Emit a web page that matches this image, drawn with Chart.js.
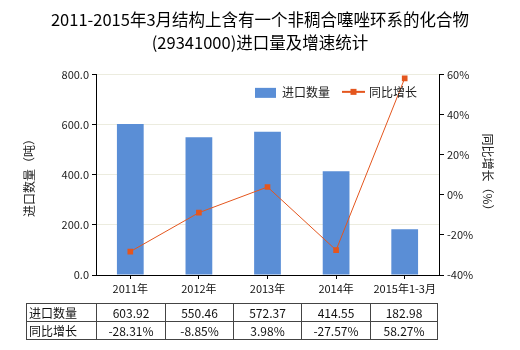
<!DOCTYPE html>
<html>
<head>
<meta charset="utf-8">
<script src="https://cdn.jsdelivr.net/npm/chart.js@4"></script>
<style>
  html, body { margin: 0; padding: 0; background: #fff; }
  #wrap { position: relative; width: 520px; height: 350px; }
  #dataTable {
    position: absolute; left: 26px; top: 303px;
    border-collapse: collapse; table-layout: fixed;
    font: 12px "Noto Sans CJK SC", sans-serif; color: #111;
  }
  #dataTable td {
    border: 1px solid #444; height: 17px; padding: 0;
    text-align: center; line-height: 17px; white-space: nowrap;
  }
  #dataTable td.head { text-align: left; padding-left: 2px; }
</style>
</head>
<body>
<div id="wrap">
  <canvas id="importChart" width="520" height="350"></canvas>
  <table id="dataTable"></table>
</div>
<script>
// 进口数量（吨）与同比增长（%）
const years = ['2011年', '2012年', '2013年', '2014年', '2015年1-3月'];
const importQty = [603.92, 550.46, 572.37, 414.55, 182.98];
const growthPct = [-28.31, -8.85, 3.98, -27.57, 58.27];
const titleLines = ['2011-2015年3月结构上含有一个非稠合噻唑环系的化合物', '(29341000)进口量及增速统计'];

const BAR_COLOR = '#5A8ED6';
const LINE_COLOR = '#E4561E';
const FONT = '"Noto Sans CJK SC", sans-serif';

// legend drawn inside the plot area, top right
const innerLegend = {
  id: 'innerLegend',
  afterDraw(chart) {
    const ctx = chart.ctx;
    const [bars, line] = chart.data.datasets;
    const y = chart.chartArea.top + 18;
    ctx.save();
    ctx.font = '12px ' + FONT;
    ctx.textBaseline = 'middle';
    ctx.fillStyle = BAR_COLOR;
    ctx.fillRect(255, y - 5, 21, 10);
    ctx.fillStyle = '#222';
    ctx.fillText(bars.label, 282, y);
    ctx.strokeStyle = LINE_COLOR;
    ctx.lineWidth = 2;
    ctx.beginPath();
    ctx.moveTo(342, y - 1);
    ctx.lineTo(365, y - 1);
    ctx.stroke();
    ctx.fillStyle = LINE_COLOR;
    ctx.fillRect(350.5, y - 4, 6, 6);
    ctx.fillStyle = '#222';
    ctx.fillText(line.label, 369, y);
    ctx.restore();
  }
};

new Chart(document.getElementById('importChart'), {
  data: {
    labels: years,
    datasets: [
      {
        type: 'bar',
        label: '进口数量',
        data: importQty,
        yAxisID: 'y',
        backgroundColor: BAR_COLOR,
        barPercentage: 0.39,
        categoryPercentage: 1,
        order: 1
      },
      {
        type: 'line',
        label: '同比增长',
        data: growthPct,
        yAxisID: 'y1',
        borderColor: LINE_COLOR,
        backgroundColor: LINE_COLOR,
        borderWidth: 1,
        tension: 0,
        pointStyle: 'rect',
        pointRadius: 4,
        pointBorderWidth: 0,
        order: 0
      }
    ]
  },
  options: {
    responsive: false,
    animation: false,
    layout: { padding: { left: 0, right: 0, top: 0, bottom: 55 } },
    plugins: {
      legend: { display: false },
      tooltip: { enabled: false },
      title: {
        display: true,
        text: titleLines,
        color: '#000',
        font: { size: 16.5, family: FONT, weight: 'normal', lineHeight: 1.42 },
        padding: { top: 8, bottom: 20 }
      }
    },
    scales: {
      x: {
        offset: true,
        grid: { offset: false, drawOnChartArea: false, drawTicks: true, tickLength: 4, tickColor: '#000' },
        border: { color: '#000', width: 1 },
        ticks: { color: '#111', padding: 3, maxRotation: 0, font: { size: 11, family: FONT } },
        afterFit(s) { s.height = 20; }
      },
      y: {
        position: 'left',
        min: 0, max: 800,
        ticks: { stepSize: 200, color: '#222', padding: 3, font: { size: 11, family: FONT },
                 callback: v => v.toFixed(1) },
        grid: { color: '#ECECDF', tickLength: 4, tickColor: '#000' },
        border: { color: '#000', width: 1 },
        title: { display: true, text: '进口数量（吨）', color: '#222',
                 font: { size: 12, family: FONT }, padding: { top: 22, bottom: 0 } },
        afterFit(s) { s.width = 96; }
      },
      y1: {
        position: 'right',
        min: -40, max: 60,
        ticks: { stepSize: 20, color: '#222', padding: 3, font: { size: 11, family: FONT },
                 callback: v => v + '%' },
        grid: { drawOnChartArea: false, tickLength: 5, tickColor: '#000' },
        border: { color: '#000', width: 1 },
        title: { display: true, text: '同比增长（%）', color: '#222',
                 font: { size: 12, family: FONT }, padding: { top: 25, bottom: 0 } },
        afterFit(s) { s.width = 81; }
      }
    }
  },
  plugins: [innerLegend]
});

// data table under the axis
const table = document.getElementById('dataTable');
const colWidths = [70, 69, 68, 68, 69, 67];
const colgroup = document.createElement('colgroup');
colWidths.forEach(w => {
  const c = document.createElement('col');
  c.style.width = w + 'px';
  colgroup.appendChild(c);
});
table.appendChild(colgroup);
[['进口数量', importQty.map(v => v.toFixed(2))],
 ['同比增长', growthPct.map(v => v.toFixed(2) + '%')]].forEach(([name, cells]) => {
  const tr = document.createElement('tr');
  const th = document.createElement('td');
  th.className = 'head';
  th.textContent = name;
  tr.appendChild(th);
  cells.forEach(t => {
    const td = document.createElement('td');
    td.textContent = t;
    tr.appendChild(td);
  });
  table.appendChild(tr);
});
</script>
</body>
</html>
